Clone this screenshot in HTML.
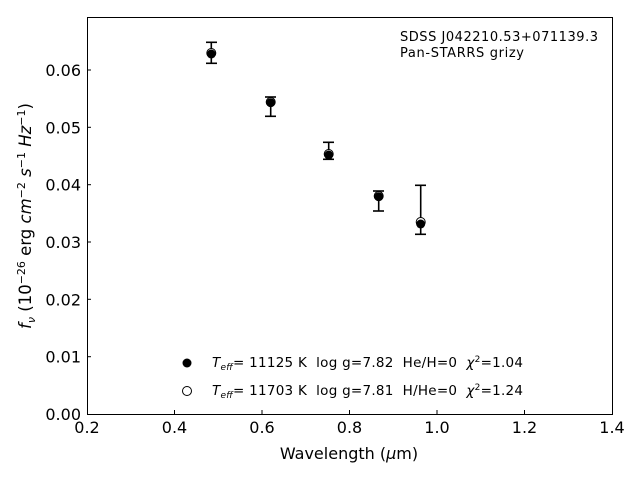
<!DOCTYPE html>
<html><head><style>body{margin:0;background:#fff}svg{display:block}text{white-space:pre}</style></head>
<body>
<svg width="640" height="480" xmlns="http://www.w3.org/2000/svg" font-family="DejaVu Sans, Liberation Sans, sans-serif">
<rect width="640" height="480" fill="#fff"/>
<rect x="87.5" y="17.5" width="525" height="397" fill="none" stroke="#000" stroke-width="1"/>
<g stroke="#000" stroke-width="1">
<line x1="174.5" y1="414" x2="174.5" y2="410"/><line x1="262" y1="414" x2="262" y2="410"/><line x1="349.5" y1="414" x2="349.5" y2="410"/><line x1="437" y1="414" x2="437" y2="410"/><line x1="524.5" y1="414" x2="524.5" y2="410"/>
<line x1="87" y1="356.7" x2="91" y2="356.7"/><line x1="87" y1="299.3" x2="91" y2="299.3"/><line x1="87" y1="242" x2="91" y2="242"/><line x1="87" y1="184.7" x2="91" y2="184.7"/><line x1="87" y1="127.3" x2="91" y2="127.3"/><line x1="87" y1="70" x2="91" y2="70"/>
</g>
<g font-size="16" text-anchor="middle">
<text x="87" y="433">0.2</text><text x="174.5" y="433">0.4</text><text x="262" y="433">0.6</text><text x="349.5" y="433">0.8</text><text x="437" y="433">1.0</text><text x="524.5" y="433">1.2</text><text x="612" y="433">1.4</text>
</g>
<g font-size="16" text-anchor="end">
<text x="81" y="420">0.00</text><text x="81" y="362.7">0.01</text><text x="81" y="305.3">0.02</text><text x="81" y="248">0.03</text><text x="81" y="190.7">0.04</text><text x="81" y="133.3">0.05</text><text x="81" y="76">0.06</text>
</g>
<text x="349" y="459" font-size="16" text-anchor="middle">Wavelength (<tspan font-style="italic">μ</tspan>m)</text>
<text transform="translate(31,216) rotate(-90)" font-size="16.5" text-anchor="middle"><tspan font-style="italic">f<tspan font-size="11" dy="4">ν</tspan></tspan><tspan dy="-4"> (10</tspan><tspan font-size="11" dy="-6">−26</tspan><tspan dy="6"> erg </tspan><tspan font-style="italic">cm</tspan><tspan font-size="11" dy="-6">−2</tspan><tspan dy="6" font-style="italic"> s</tspan><tspan font-size="11" dy="-6">−1</tspan><tspan dy="6" font-style="italic"> Hz</tspan><tspan font-size="11" dy="-6">−1</tspan><tspan dy="6">)</tspan></text>
<g stroke="#000" stroke-width="1.6">
<line x1="211.3" y1="42.3" x2="211.3" y2="63.3"/><line x1="206" y1="42.3" x2="217" y2="42.3"/><line x1="206" y1="63.3" x2="217" y2="63.3"/>
<line x1="270.7" y1="97" x2="270.7" y2="116.3"/><line x1="265" y1="97" x2="276" y2="97"/><line x1="265" y1="116.3" x2="276" y2="116.3"/>
<line x1="328.7" y1="142.3" x2="328.7" y2="159.3"/><line x1="323" y1="142.3" x2="334" y2="142.3"/><line x1="323" y1="159.3" x2="334" y2="159.3"/>
<line x1="378.7" y1="191" x2="378.7" y2="211"/><line x1="373" y1="191" x2="384" y2="191"/><line x1="373" y1="211" x2="384" y2="211"/>
<line x1="420.7" y1="185.3" x2="420.7" y2="234.3"/><line x1="415" y1="185.3" x2="426" y2="185.3"/><line x1="415" y1="234.3" x2="426" y2="234.3"/>
</g>
<g fill="#fff" stroke="#000" stroke-width="1">
<circle cx="211.3" cy="53" r="4.5"/><circle cx="270.7" cy="102" r="4.5"/><circle cx="328.7" cy="154" r="4.5"/><circle cx="378.7" cy="196" r="4.5"/><circle cx="420.7" cy="222" r="4.5"/>
</g>
<g fill="#000">
<circle cx="211.3" cy="54" r="4.5"/><circle cx="270.7" cy="102.7" r="4.5"/><circle cx="328.7" cy="155" r="4.5"/><circle cx="378.7" cy="196.7" r="4.5"/><circle cx="420.7" cy="224" r="4.5"/>
</g>
<text x="400" y="41" font-size="13" textLength="198">SDSS J042210.53+071139.3</text>
<text x="400" y="57" font-size="13" textLength="124">Pan-STARRS grizy</text>
<circle cx="187" cy="363" r="4.5" fill="#000"/>
<circle cx="187" cy="391" r="4.5" fill="#fff" stroke="#000"/>
<text x="212" y="367" font-size="13.5" textLength="311" lengthAdjust="spacing"><tspan font-style="italic">T</tspan><tspan font-size="9" dy="3" font-style="italic">eff</tspan><tspan dy="-3">= 11125 K  log g=7.82  He/H=0  </tspan><tspan font-style="italic">χ</tspan><tspan font-size="9" dy="-5">2</tspan><tspan dy="5">=1.04</tspan></text>
<text x="212" y="395" font-size="13.5" textLength="311" lengthAdjust="spacing"><tspan font-style="italic">T</tspan><tspan font-size="9" dy="3" font-style="italic">eff</tspan><tspan dy="-3">= 11703 K  log g=7.81  H/He=0  </tspan><tspan font-style="italic">χ</tspan><tspan font-size="9" dy="-5">2</tspan><tspan dy="5">=1.24</tspan></text>
</svg>
</body></html>
